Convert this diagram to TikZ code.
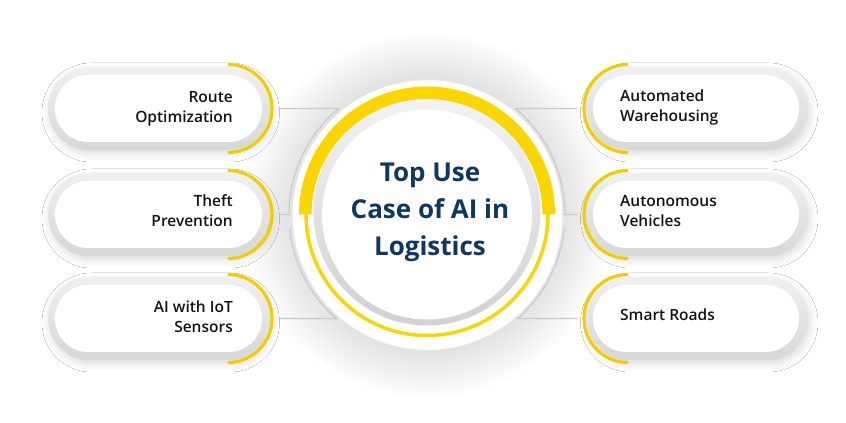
\documentclass[tikz,border=0pt]{standalone}
\usepackage{fontspec}
\usetikzlibrary{shadows.blur}
\IfFontExistsTF{Open Sans SemiBold}
 {\newfontfamily\sbf{Open Sans SemiBold}}
 {\IfFontExistsTF{Open Sans Semibold}
   {\newfontfamily\sbf{Open Sans Semibold}}
   {\newfontfamily\sbf{Open Sans}[UprightFont={* Bold}]}}
\newfontfamily\ttlfont{Open Sans}[UprightFont={* Bold}]
\definecolor{connc}{RGB}{200,201,202}
\definecolor{pilltop}{RGB}{239,240,240}
\definecolor{pillbot}{RGB}{214,215,215}
\definecolor{pillyel}{RGB}{244,205,0}
\definecolor{ringyel}{RGB}{250,214,0}
\definecolor{titlec}{RGB}{15,56,96}
\definecolor{labc}{RGB}{20,20,20}
\definecolor{halogrey}{RGB}{226,226,226}
\pgfdeclareradialshading{halo}{\pgfpoint{0bp}{0bp}}{color(0bp)=(white); color(18.2bp)=(white); color(18.3bp)=(halogrey); color(25bp)=(white); color(50bp)=(white)}
\begin{document}
\begin{tikzpicture}[x=1pt,y=1pt,
  conn/.style={draw=connc, line width=1.1pt},
  outerpill/.style={rounded corners=41.4pt, minimum width=221.5pt, minimum height=83pt,
    top color=pilltop, bottom color=pillbot, draw=none, inner sep=0pt,
    blur shadow={shadow xshift=2pt, shadow yshift=-4pt, shadow blur radius=8pt, shadow opacity=14}},
  whitepill/.style={rounded corners=33.4pt, minimum width=207pt, minimum height=67pt, fill=white, draw=none, inner sep=0pt},
  yarc/.style={draw=pillyel, line width=3.2pt},
  lab/.style={font=\sbf\fontsize{15.5}{20}\selectfont, text=labc, inner sep=0pt},
]
\useasboundingbox (0,0) rectangle (846,423);
\fill[white] (0,0) rectangle (846,423);
\coordinate (C) at (427,208.5);
% halo around the central disc
\shade[shading=halo] (C) circle[radius=185];

% left pills
\foreach \n/\y in {1/314.5, 2/208.5, 3/104.5}{
  \node[outerpill] (o\n) at (158.75,\y) {};
  \node[whitepill] (w\n) at (158.5,\y) {};
  \draw[yarc] (228,\y+44) arc[start angle=90,end angle=-90,radius=44];
}
% right pills
\foreach \n/\y in {4/314.5, 5/208.5, 6/104.5}{
  \node[outerpill] (o\n) at (697.25,\y) {};
  \node[whitepill, minimum width=206pt] (w\n) at (696,\y) {};
  \draw[yarc] (628,\y+44) arc[start angle=90,end angle=270,radius=44];
}

\node[lab, anchor=north east, align=right] (t1) at (233,331.8) {Route\\Optimization};
\node[lab, anchor=north east, align=right] (t2) at (233,228.1) {Theft\\Prevention};
\node[lab, anchor=north east, align=right] (t3) at (233,122.1) {AI with IoT\\Sensors};
\node[lab, anchor=north west, align=left] (t4) at (620,333.1) {Automated\\Warehousing};
\node[lab, anchor=north west, align=left] (t5) at (620,227.4) {Autonomous\\Vehicles};
\node[lab, anchor=north west, align=left] (t6) at (620,114.8) {Smart Roads};

% connectors
\coordinate (l1) at (278,314.5);
\coordinate (l2) at (278,208.5);
\coordinate (l3) at (278,104.5);
\coordinate (r1) at (577,314.5);
\coordinate (r2) at (577,208.5);
\coordinate (r3) at (577,104.5);
\draw[conn] (l1) -- ([shift={(129.8:138)}]C) arc[start angle=129.8,end angle=180,radius=138] -- (l2);
\draw[conn] ([shift={(186:138)}]C) arc[start angle=186,end angle=228.9,radius=138] -- (l3);
\draw[conn] (r1) -- ([shift={(50.2:138)}]C) arc[start angle=50.2,end angle=0,radius=138] -- (r2);
\draw[conn] ([shift={(-6:138)}]C) arc[start angle=-6,end angle=-48.9,radius=138] -- (r3);

% central disc
\draw[draw=ringyel, line width=3.5pt] (C) circle[radius=121];
\shade[top color=gray!10, bottom color=gray!36] (427,211) circle[radius=113.5];
\fill[white] (C) circle[radius=105];
\fill[ringyel] ([shift={(0:128)}]C) arc[start angle=0,end angle=180,radius=128]
   -- ([shift={(180:115.5)}]C) arc[start angle=180,end angle=0,radius=115.5] -- cycle;

\node[font=\ttlfont\fontsize{26}{36.7}\selectfont, text=titlec, align=center, anchor=north, inner sep=0pt] (title) at (430,259.9) {Top Use\\Case of AI in\\Logistics};
\end{tikzpicture}
\end{document}
